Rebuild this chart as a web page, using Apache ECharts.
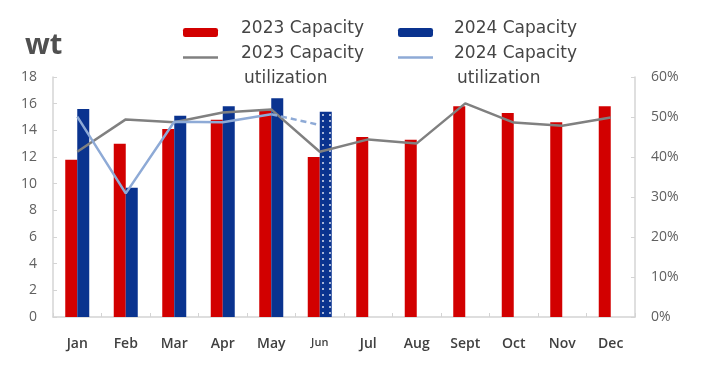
<!DOCTYPE html>
<html>
<head>
<meta charset="utf-8">
<script src="https://cdn.jsdelivr.net/npm/echarts@6/dist/echarts.min.js"></script>
<style>
html,body{margin:0;padding:0;background:#fff;}
#c{width:709px;height:388px;}
</style>
</head>
<body>
<div id="c"></div>
<script>
var categories = ['Jan','Feb','Mar','Apr','May','Jun','Jul','Aug','Sept','Oct','Nov','Dec'];
var capacity2023 = [11.8, 13.0, 14.1, 14.8, 15.5, 12.0, 13.5, 13.3, 15.8, 15.3, 14.6, 15.8];
var capacity2024 = [15.6, 9.7, 15.1, 15.8, 16.4, 15.4, null, null, null, null, null, null];
var util2023 = [41.3, 49.4, 48.7, 51.1, 51.9, 41.3, 44.4, 43.4, 53.4, 48.6, 47.8, 49.9];
var util2024 = [50.1, 30.9, 48.8, 48.7, 50.7, null, null, null, null, null, null, null];
var util2024Est = [null, null, null, null, 50.7, 48.0, null, null, null, null, null, null];
var leftTicks = [0, 18, 2];
var rightTicks = [0, 60, 10];

var RED = '#d20000', BLUE = '#0a338f', GRAY = '#808080', LBLUE = '#8eaad6';
var FONT = 'Open Sans';
var LFONT = 'DejaVu Sans';

var bar2024Data = capacity2024.map(function (v, i) {
  if (categories[i] === 'Jun') {
    return {
      value: v,
      itemStyle: {
        decal: {
          symbol: 'circle',
          symbolSize: 1,
          color: 'rgba(255,255,255,0.85)',
          dashArrayX: [1.5, 4.5],
          dashArrayY: [1.5, 3.5],
          rotation: 0
        }
      }
    };
  }
  return v;
});

var legendRich = {
  a: { fontFamily: LFONT, fontSize: 17, color: '#454545', lineHeight: 25 },
  z: { fontFamily: LFONT, fontSize: 1, lineHeight: 7 },
  l1: { fontFamily: LFONT, fontSize: 17, color: '#454545', lineHeight: 42 },
  l2: { fontFamily: LFONT, fontSize: 17, color: '#454545', lineHeight: 8, padding: [0, 0, 0, 3] }
};

function legendBox(name, left, top, itemH, padLeft, isLine) {
  return {
    data: [isLine ? { name: name, icon: 'rect' } : name],
    left: left,
    top: top,
    padding: 0,
    itemWidth: 35,
    itemHeight: itemH,
    selectedMode: false,
    itemStyle: { borderWidth: 0 },
    textStyle: {
      fontFamily: LFONT,
      fontSize: 17,
      color: '#454545',
      padding: [0, 0, 0, padLeft],
      rich: legendRich
    },
    formatter: function (n) {
      if (n.indexOf(' utilization') > 0) {
        return '{l1|' + n.replace(' utilization', '') + '}\n{l2|utilization}';
      }
      return '{a|' + n + '}\n{z| }';
    }
  };
}

var chart = echarts.init(document.getElementById('c'));
chart.setOption({
  animation: false,
  backgroundColor: '#fff',
  title: {
    text: 'wt',
    left: 25,
    top: 31,
    padding: 0,
    textStyle: { fontFamily: FONT, fontSize: 29, fontWeight: 'bold', color: '#505050' }
  },
  legend: [
    legendBox('2023 Capacity', 183, 20.5, 9, 18, false),
    legendBox('2024 Capacity', 398, 20.5, 9, 16, false),
    legendBox('2023 Capacity utilization', 183, 45, 2.5, 18, true),
    legendBox('2024 Capacity utilization', 398, 45, 2.5, 16, true)
  ],
  grid: { left: 53, right: 74, top: 77, bottom: 71, containLabel: false },
  xAxis: {
    type: 'category',
    data: categories,
    axisLine: { lineStyle: { color: '#d4d4d4', width: 1.5 } },
    axisTick: { show: true, inside: true, length: 4, lineStyle: { color: '#d4d4d4' } },
    axisLabel: {
      interval: 0,
      margin: 20,
      fontFamily: FONT,
      fontSize: 14,
      fontWeight: 600,
      color: '#404040',
      formatter: function (v) { return v === 'Jun' ? '{s|' + v + '}' : v; },
      rich: { s: { fontFamily: FONT, fontSize: 11, fontWeight: 600, color: '#404040' } }
    }
  },
  yAxis: [
    {
      type: 'value',
      min: leftTicks[0], max: leftTicks[1], interval: leftTicks[2],
      splitLine: { show: false },
      axisLine: { show: true, lineStyle: { color: '#d4d4d4', width: 1.5 } },
      axisTick: { show: true, inside: true, length: 4, lineStyle: { color: '#d4d4d4' } },
      axisLabel: { margin: 16, fontFamily: FONT, fontSize: 14, color: '#606060' }
    },
    {
      type: 'value',
      min: rightTicks[0], max: rightTicks[1], interval: rightTicks[2],
      splitLine: { show: false },
      axisLine: { show: true, lineStyle: { color: '#d4d4d4', width: 1.5 } },
      axisTick: { show: true, inside: true, length: 4, lineStyle: { color: '#d4d4d4' } },
      axisLabel: { margin: 16, fontFamily: FONT, fontSize: 14, color: '#606060', formatter: '{value}%' }
    }
  ],
  series: [
    {
      name: '2023 Capacity', type: 'bar', data: capacity2023,
      barWidth: 12, barGap: '0%',
      itemStyle: { color: RED }
    },
    {
      name: '2024 Capacity', type: 'bar', data: bar2024Data,
      barWidth: 12, barGap: '0%',
      itemStyle: { color: BLUE }
    },
    {
      name: '2023 Capacity utilization', type: 'line', yAxisIndex: 1, data: util2023,
      symbol: 'none', lineStyle: { color: GRAY, width: 2.5 }, itemStyle: { color: GRAY }
    },
    {
      name: '2024 Capacity utilization', type: 'line', yAxisIndex: 1, data: util2024,
      symbol: 'none', lineStyle: { color: LBLUE, width: 2.5 }, itemStyle: { color: LBLUE }
    },
    {
      name: '2024 Capacity utilization (est.)', type: 'line', yAxisIndex: 1, data: util2024Est,
      symbol: 'none', lineStyle: { color: LBLUE, width: 2.5, type: [6, 4] }, itemStyle: { color: LBLUE }
    }
  ]
});
</script>
</body>
</html>
